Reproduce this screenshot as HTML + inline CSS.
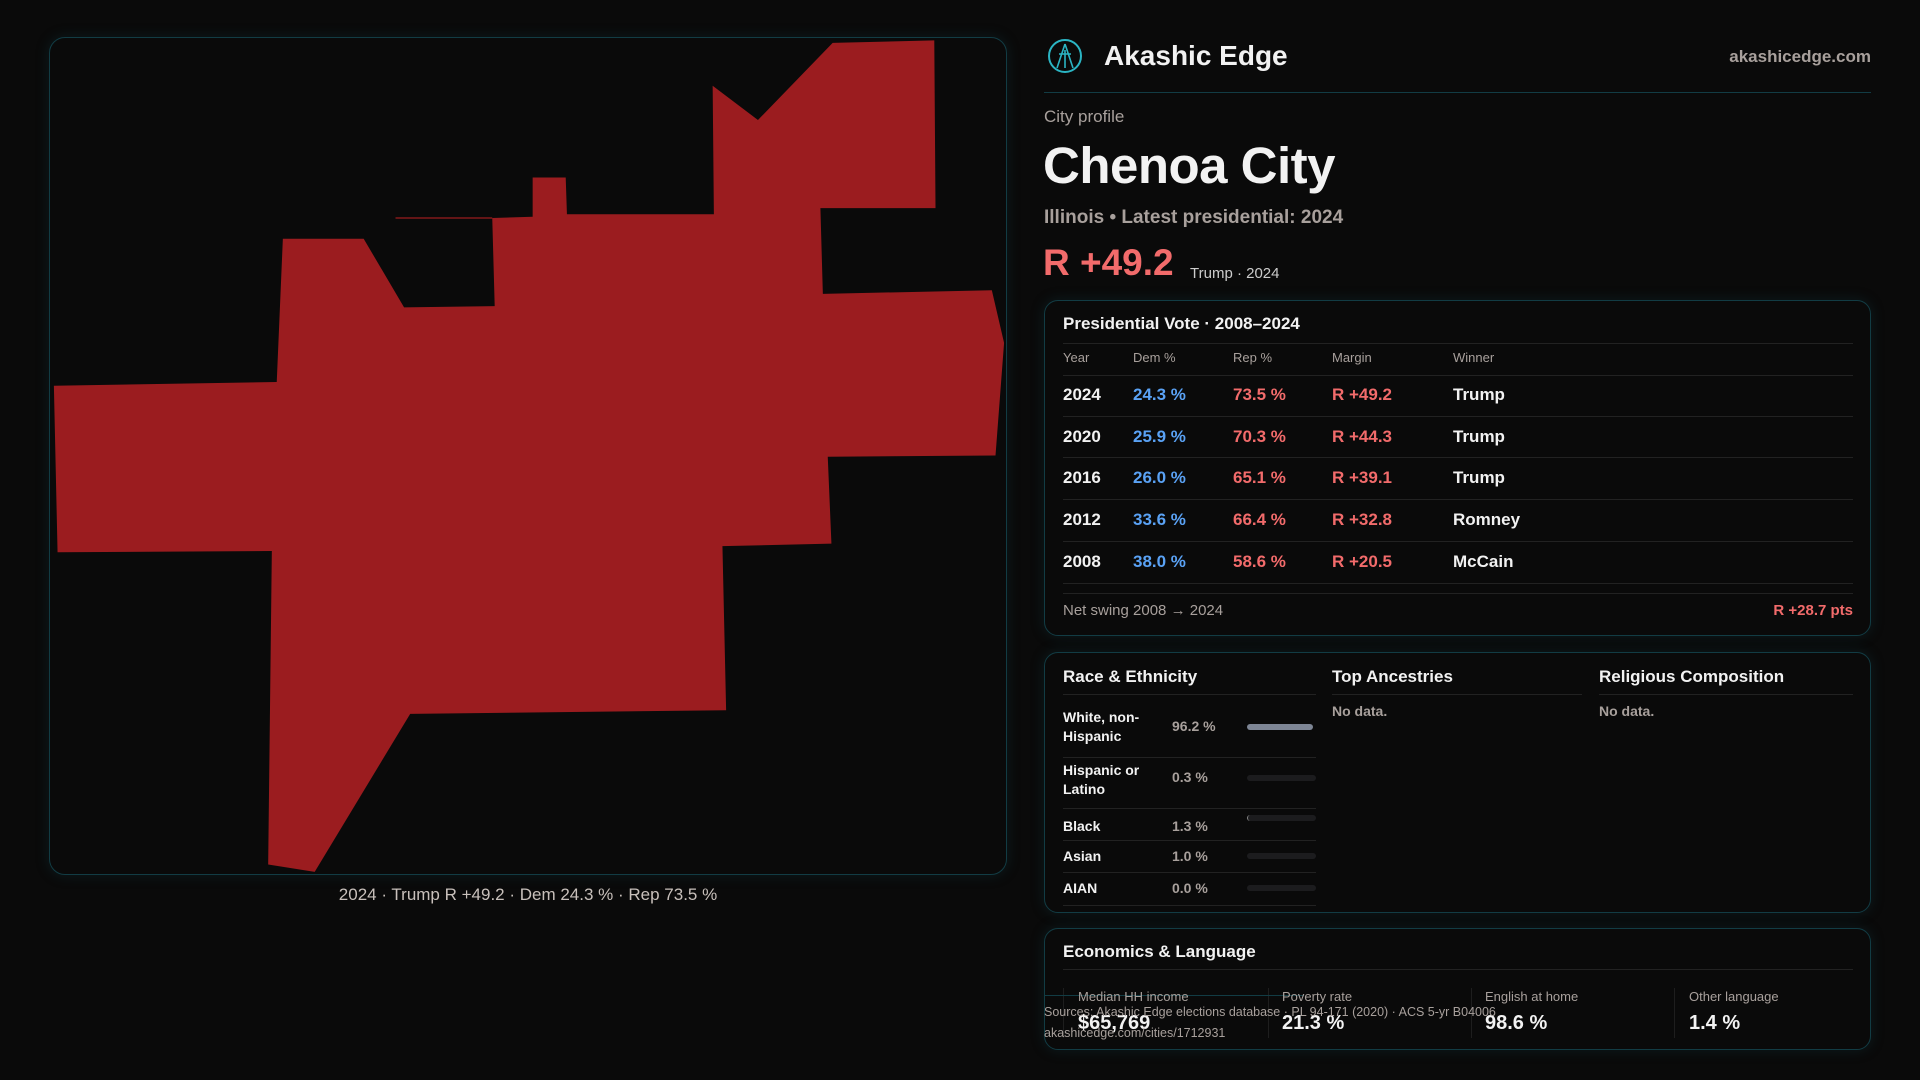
<!DOCTYPE html>
<html><head><meta charset="utf-8"><style>
*{margin:0;padding:0;box-sizing:border-box}
body{width:1920px;height:1080px;background:#0a0a0a;font-family:"Liberation Sans",sans-serif;color:#f2f2f2;position:relative;overflow:hidden}
.a{position:absolute;white-space:nowrap}
.card{position:absolute;border:1px solid #123c44;border-radius:14px;background:#0a0a0a;box-shadow:0 0 14px rgba(20,80,90,.25)}
.hl{position:absolute;height:1px;background:#222}
.mut{color:#a8a09c}
.blue{color:#5aa2f5}.red{color:#f26b6b}
.bar{position:absolute;height:6px;border-radius:3px;background:#1c1c1e}
</style></head><body>
<div class="card" style="left:49px;top:37px;width:958px;height:838px;border-radius:16px"></div>
<svg class="a" style="left:0;top:0" width="1920" height="1080" viewBox="0 0 1568 882">
<polygon fill="#9b1c1f" points="680,35 763,33 764,170 670,170 672,240 810,237 820,280 813,372 676,373 679,444 590,446 593,580 335,583 257,712 219,706 222,450 47,451 44,315 226,312 231,195 297,195 330,251 404,250 402,178 435,177 435,145 462,145 463,175 583,175 582,70 619,98"/>
<line x1="323" y1="178" x2="402" y2="178" stroke="#9b1c1f" stroke-width="1"/>
</svg>
<div class="a mut" style="left:0;width:1056px;text-align:center;top:885px;font-size:17px;color:#c8c0bb">2024 · Trump R +49.2 · Dem 24.3 % · Rep 73.5 %</div>

<svg class="a" style="left:1047px;top:38px" width="36" height="36" viewBox="0 0 36 36"><circle cx="18" cy="18" r="16" fill="none" stroke="#2bb5c4" stroke-width="2"/><path d="M18 6 L10 30 M18 6 L26 30 M12 16 L24 16 M18 12 L18 30" stroke="#2bb5c4" stroke-width="1.6" fill="none"/></svg>
<div class="a" style="left:1104px;top:40px;font-size:28px;font-weight:bold">Akashic Edge</div>
<div class="a mut" style="right:49px;top:47px;font-size:17px;font-weight:bold">akashicedge.com</div>
<div class="hl" style="left:1044px;width:827px;top:92px;background:#123c44"></div>
<div class="a mut" style="left:1044px;top:107px;font-size:17px">City profile</div>
<div class="a" style="left:1043px;top:136px;font-size:51px;font-weight:bold;letter-spacing:-0.5px">Chenoa City</div>
<div class="a mut" style="left:1044px;top:207px;font-size:19px;font-weight:bold">Illinois • Latest presidential: 2024</div>
<div class="a red" style="left:1043px;top:242px;font-size:37px;font-weight:bold">R +49.2</div>
<div class="a" style="left:1190px;top:265px;font-size:15px;color:#ccc">Trump · 2024</div>

<div class="card" style="left:1044px;top:300px;width:827px;height:336px"></div>
<div class="a" style="left:1063px;top:314px;font-size:17px;font-weight:bold">Presidential Vote · 2008–2024</div>
<div class="hl" style="left:1063px;width:790px;top:343px"></div>
<div class="a mut" style="left:1063px;top:350px;font-size:13px">Year</div>
<div class="a mut" style="left:1133px;top:350px;font-size:13px">Dem %</div>
<div class="a mut" style="left:1233px;top:350px;font-size:13px">Rep %</div>
<div class="a mut" style="left:1332px;top:350px;font-size:13px">Margin</div>
<div class="a mut" style="left:1453px;top:350px;font-size:13px">Winner</div>
<div class="hl" style="left:1063px;width:790px;top:375px"></div>
<div style="position:absolute;left:1063px;top:375px;width:790px;font-size:17px;font-weight:bold">
<div style="position:relative;height:42px;border-bottom:1px solid #222"><span class="a" style="left:0;top:10px">2024</span><span class="a blue" style="left:70px;top:10px">24.3 %</span><span class="a red" style="left:170px;top:10px">73.5 %</span><span class="a red" style="left:269px;top:10px">R +49.2</span><span class="a" style="left:390px;top:10px">Trump</span></div>
<div style="position:relative;height:41px;border-bottom:1px solid #222"><span class="a" style="left:0;top:10px">2020</span><span class="a blue" style="left:70px;top:10px">25.9 %</span><span class="a red" style="left:170px;top:10px">70.3 %</span><span class="a red" style="left:269px;top:10px">R +44.3</span><span class="a" style="left:390px;top:10px">Trump</span></div>
<div style="position:relative;height:42px;border-bottom:1px solid #222"><span class="a" style="left:0;top:10px">2016</span><span class="a blue" style="left:70px;top:10px">26.0 %</span><span class="a red" style="left:170px;top:10px">65.1 %</span><span class="a red" style="left:269px;top:10px">R +39.1</span><span class="a" style="left:390px;top:10px">Trump</span></div>
<div style="position:relative;height:42px;border-bottom:1px solid #222"><span class="a" style="left:0;top:10px">2012</span><span class="a blue" style="left:70px;top:10px">33.6 %</span><span class="a red" style="left:170px;top:10px">66.4 %</span><span class="a red" style="left:269px;top:10px">R +32.8</span><span class="a" style="left:390px;top:10px">Romney</span></div>
<div style="position:relative;height:42px;border-bottom:1px solid #222"><span class="a" style="left:0;top:10px">2008</span><span class="a blue" style="left:70px;top:10px">38.0 %</span><span class="a red" style="left:170px;top:10px">58.6 %</span><span class="a red" style="left:269px;top:10px">R +20.5</span><span class="a" style="left:390px;top:10px">McCain</span></div>
</div>
<div class="hl" style="left:1063px;width:790px;top:593px"></div>
<div class="a mut" style="left:1063px;top:602px;font-size:15px">Net swing 2008 → 2024</div>
<div class="a red" style="right:67px;top:602px;font-size:15px;font-weight:bold">R +28.7 pts</div>

<div class="card" style="left:1044px;top:652px;width:827px;height:261px"></div>
<div class="a" style="left:1063px;top:667px;font-size:17px;font-weight:bold">Race &amp; Ethnicity</div>
<div class="a" style="left:1332px;top:667px;font-size:17px;font-weight:bold">Top Ancestries</div>
<div class="a" style="left:1599px;top:667px;font-size:17px;font-weight:bold">Religious Composition</div>
<div class="hl" style="left:1063px;width:253px;top:694px"></div>
<div class="hl" style="left:1332px;width:250px;top:694px"></div>
<div class="hl" style="left:1599px;width:254px;top:694px"></div>
<div class="a mut" style="left:1332px;top:703px;font-size:14px;font-weight:bold">No data.</div>
<div class="a mut" style="left:1599px;top:703px;font-size:14px;font-weight:bold">No data.</div>
<div style="position:absolute;left:1063px;top:698px;font-size:14px;font-weight:bold;line-height:19px">
<div class="a" style="left:0;top:10px">White, non-<br>Hispanic</div><div class="a mut" style="left:109px;top:19px">96.2 %</div><div class="bar" style="left:184px;top:26px;width:66px;background:#7d8594"></div>
<div class="hl" style="left:0;width:253px;top:59px"></div>
<div class="a" style="left:0;top:63px">Hispanic or<br>Latino</div><div class="a mut" style="left:109px;top:70px">0.3 %</div><div class="bar" style="left:184px;top:77px;width:69px"></div>
<div class="hl" style="left:0;width:253px;top:110px"></div>
<div class="a" style="left:0;top:110px;line-height:36px">Black</div><div class="a mut" style="left:109px;top:110px;line-height:36px">1.3 %</div><div class="bar" style="left:184px;top:117px;width:69px;border-left:1px solid #888"></div>
<div class="hl" style="left:0;width:253px;top:142px"></div>
<div class="a" style="left:0;top:142px;line-height:33px">Asian</div><div class="a mut" style="left:109px;top:142px;line-height:33px">1.0 %</div><div class="bar" style="left:184px;top:155px;width:69px"></div>
<div class="hl" style="left:0;width:253px;top:174px"></div>
<div class="a" style="left:0;top:174px;line-height:33px">AIAN</div><div class="a mut" style="left:109px;top:174px;line-height:33px">0.0 %</div><div class="bar" style="left:184px;top:187px;width:69px"></div>
<div class="hl" style="left:0;width:253px;top:207px"></div>
</div>

<div class="card" style="left:1044px;top:928px;width:827px;height:122px"></div>
<div class="a" style="left:1063px;top:942px;font-size:17px;font-weight:bold">Economics &amp; Language</div>
<div class="hl" style="left:1063px;width:790px;top:969px"></div>
<div class="a" style="left:1063px;top:988px;width:1px;height:50px;background:#1e1e1e"></div>
<div class="a" style="left:1268px;top:988px;width:1px;height:50px;background:#1e1e1e"></div>
<div class="a" style="left:1471px;top:988px;width:1px;height:50px;background:#1e1e1e"></div>
<div class="a" style="left:1674px;top:988px;width:1px;height:50px;background:#1e1e1e"></div>
<div class="hl" style="left:1044px;width:260px;top:995px;background:#123c44"></div>
<div class="a mut" style="left:1078px;top:989px;font-size:13px">Median HH income</div>
<div class="a mut" style="left:1282px;top:989px;font-size:13px">Poverty rate</div>
<div class="a mut" style="left:1485px;top:989px;font-size:13px">English at home</div>
<div class="a mut" style="left:1689px;top:989px;font-size:13px">Other language</div>
<div class="a" style="left:1078px;top:1012px;font-size:20px;font-weight:bold">$65,769</div>
<div class="a" style="left:1282px;top:1012px;font-size:20px;font-weight:bold">21.3 %</div>
<div class="a" style="left:1485px;top:1012px;font-size:20px;font-weight:bold">98.6 %</div>
<div class="a" style="left:1689px;top:1012px;font-size:20px;font-weight:bold">1.4 %</div>
<div class="a mut" style="left:1044px;top:1005px;font-size:12.5px">Sources: Akashic Edge elections database · PL 94-171 (2020) · ACS 5-yr B04006</div>
<div class="a mut" style="left:1044px;top:1026px;font-size:12.5px">akashicedge.com/cities/1712931</div>
</body></html>
